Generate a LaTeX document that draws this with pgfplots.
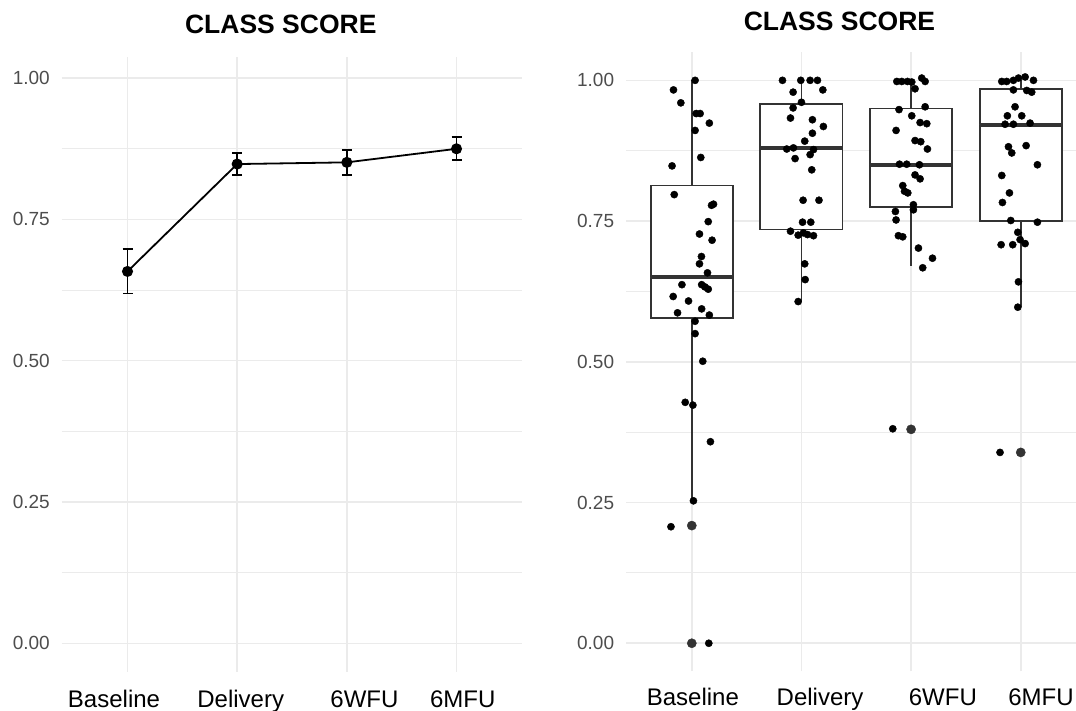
\documentclass[border=0pt]{standalone}
\usepackage{pgfplots}
\pgfplotsset{compat=1.18}
\usepgfplotslibrary{statistics}
\usepackage{fontspec}
\setmainfont{Liberation Sans}
\definecolor{gridc}{RGB}{235,235,235}
\definecolor{tickc}{RGB}{77,77,77}
\definecolor{boxc}{RGB}{51,51,51}

\pgfplotsset{
  panel/.style={
    scale only axis,
    axis line style={draw=none},
    tick style={draw=none},
    xtick={1,2,3,4}, xticklabels={,,,},
    ytick={0,0.25,0.5,0.75,1}, yticklabels={0.00,0.25,0.50,0.75,1.00},
    minor ytick={0.125,0.375,0.625,0.875},
    xmajorgrids, ymajorgrids, yminorgrids,
    major grid style={gridc, line width=1.5pt},
    minor grid style={gridc, line width=0.9pt},
    yticklabel style={font=\fontsize{19}{19}\selectfont, text=tickc, anchor=east, inner sep=0pt, xshift=-11.7pt},
    extra x ticks={0.877,2.032,3.161,4.057},
    extra x tick labels={Baseline,Delivery,6WFU,6MFU},
    title={CLASS SCORE},
    title style={font=\bfseries\fontsize{26.5}{26.5}\selectfont, anchor=base, inner sep=0pt, yshift=-6pt},
  }
}

\pgfplotstableread{
x y err
1 0.658 0.039
2 0.848 0.0195
3 0.851 0.0225
4 0.875 0.0205
}\meanstable

\pgfplotstableread{
x y
1.030 1.000
0.833 0.983
0.900 0.960
1.040 0.941
1.076 0.941
1.160 0.924
1.030 0.911
1.082 0.863
0.820 0.848
0.840 0.797
1.180 0.778
1.198 0.780
1.150 0.749
1.070 0.727
1.185 0.716
1.088 0.687
1.070 0.674
1.143 0.658
0.910 0.637
1.090 0.637
1.120 0.633
1.150 0.629
0.830 0.616
0.970 0.608
1.090 0.594
0.870 0.587
1.160 0.583
1.030 0.572
1.030 0.550
1.100 0.501
0.940 0.428
1.010 0.423
1.170 0.358
1.015 0.253
0.810 0.207
1.155 0.000
1.827 1.000
1.994 1.000
2.079 1.000
2.146 1.000
1.924 0.979
2.195 0.983
2.000 0.961
1.924 0.951
1.900 0.933
2.100 0.930
2.200 0.918
2.100 0.906
2.030 0.892
1.866 0.878
1.927 0.880
2.110 0.877
2.079 0.868
1.942 0.861
2.094 0.841
2.015 0.787
2.160 0.787
2.010 0.748
2.085 0.748
1.900 0.732
1.970 0.725
2.018 0.729
2.055 0.726
2.110 0.724
2.030 0.674
2.034 0.646
1.970 0.607
2.870 0.998
2.915 0.998
2.967 0.998
3.006 0.997
3.097 1.004
3.128 0.998
3.036 0.985
2.890 0.948
3.128 0.953
3.006 0.937
3.082 0.925
3.143 0.923
2.863 0.911
3.036 0.893
3.088 0.891
3.149 0.878
2.894 0.851
2.960 0.851
3.076 0.850
3.036 0.832
3.082 0.825
2.924 0.813
2.940 0.803
2.970 0.800
3.021 0.779
3.021 0.770
2.857 0.767
2.863 0.752
2.884 0.724
2.924 0.722
3.067 0.702
3.195 0.684
3.106 0.667
2.833 0.381
3.827 0.998
3.872 0.998
3.933 1.000
3.979 1.004
4.040 1.006
4.116 1.000
3.933 0.983
4.055 0.982
4.100 0.979
3.948 0.953
3.878 0.937
4.009 0.937
3.857 0.922
3.933 0.922
4.085 0.924
3.888 0.882
4.049 0.884
3.918 0.871
4.152 0.850
3.827 0.831
3.897 0.800
3.833 0.783
3.909 0.751
4.152 0.748
3.973 0.730
3.994 0.717
4.040 0.710
3.821 0.708
3.927 0.708
3.979 0.642
3.973 0.597
3.811 0.339
}\jittertable

\begin{document}
\begin{tikzpicture}
\useasboundingbox (0pt,0pt) rectangle (1076pt,711pt);

% Left panel
\begin{axis}[panel,
  at={(61.7pt,39.3pt)}, anchor=south west,
  width=460.6pt, height=615pt,
  xmin=0.4, xmax=4.6, ymin=-0.0503, ymax=1.038,
  extra x tick style={grid=none, xticklabel style={font=\fontsize{24}{24}\selectfont, anchor=base, inner sep=0pt, yshift=-35.5pt}},
  title style={at={(axis description cs:0.4757,1.038)}},
]
\addplot[black, line width=1.8pt, mark=*, mark size=4.6pt,
  error bars/.cd, y dir=both, y explicit,
  error bar style={line width=1.8pt, black},
  error mark options={rotate=90, line width=1.8pt, mark size=5pt, black}]
  table[x=x, y=y, y error=err] {\meanstable};
\end{axis}

% Right panel
\begin{axis}[panel,
  at={(626pt,39.6pt)}, anchor=south west,
  width=450pt, height=619.2pt,
  xmin=0.4, xmax=4.504, ymin=-0.05, ymax=1.05,
  extra x tick style={grid=none, xticklabel style={font=\fontsize{24}{24}\selectfont, anchor=base, inner sep=0pt, yshift=-34.1pt}},
  extra x ticks={1.01,2.17,3.29,4.185},
  title style={at={(axis description cs:0.4744,1.0358)}},
  boxplot/draw direction=y,
  boxplot/box extend=0.75,
  boxplot/whisker extend=0,
]
\addplot[draw=boxc, fill=white, line width=1.8pt, solid,
  boxplot prepared={median=0.650, upper quartile=0.813, lower quartile=0.578,
    upper whisker=1.0, lower whisker=0.253, draw position=1},
  boxplot/every median/.style={line width=3.8pt}] coordinates {};
\addplot[draw=boxc, fill=white, line width=1.8pt, solid,
  boxplot prepared={median=0.880, upper quartile=0.958, lower quartile=0.735,
    upper whisker=1.0, lower whisker=0.607, draw position=2},
  boxplot/every median/.style={line width=3.8pt}] coordinates {};
\addplot[draw=boxc, fill=white, line width=1.8pt, solid,
  boxplot prepared={median=0.850, upper quartile=0.950, lower quartile=0.7755,
    upper whisker=1.0, lower whisker=0.671, draw position=3},
  boxplot/every median/.style={line width=3.8pt}] coordinates {};
\addplot[draw=boxc, fill=white, line width=1.8pt, solid,
  boxplot prepared={median=0.921, upper quartile=0.985, lower quartile=0.750,
    upper whisker=1.0, lower whisker=0.597, draw position=4},
  boxplot/every median/.style={line width=3.8pt}] coordinates {};
\addplot[only marks, mark=*, mark size=4.6pt, boxc, mark options={fill=boxc, draw=boxc}]
  coordinates {(1,0.209) (1,0.0) (3,0.38) (4,0.339)};
\addplot[only marks, mark=*, mark size=3.6pt, black]
  table[x=x, y=y] {\jittertable};
\end{axis}
\end{tikzpicture}
\end{document}
